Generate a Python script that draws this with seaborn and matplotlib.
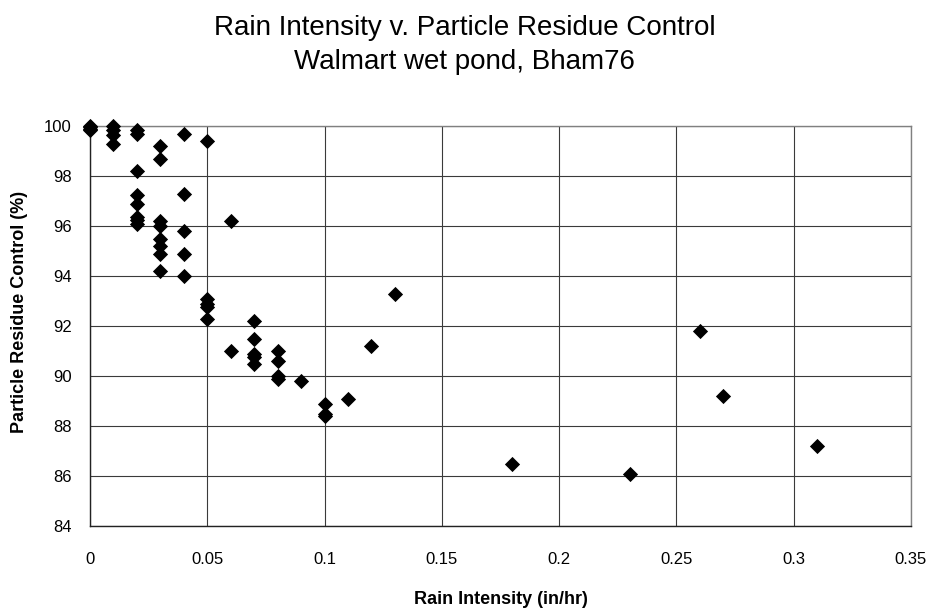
import matplotlib
matplotlib.use("Agg")
import matplotlib.pyplot as plt
import seaborn as sns
import pandas as pd

rain_intensity = [
    0, 0, 0, 0,
    0.01, 0.01, 0.01, 0.01,
    0.02, 0.02, 0.02, 0.02, 0.02, 0.02, 0.02, 0.02,
    0.03, 0.03, 0.03, 0.03, 0.03, 0.03, 0.03, 0.03,
    0.04, 0.04, 0.04, 0.04, 0.04,
    0.05, 0.05, 0.05, 0.05, 0.05,
    0.06, 0.06,
    0.07, 0.07, 0.07, 0.07, 0.07,
    0.08, 0.08, 0.08, 0.08,
    0.09,
    0.10, 0.10, 0.10,
    0.11, 0.12, 0.13, 0.18, 0.23, 0.26, 0.27, 0.31,
]
residue_control = [
    100, 99.95, 99.9, 99.85,
    100, 99.85, 99.65, 99.3,
    99.85, 99.7, 98.2, 97.25, 96.9, 96.35, 96.25, 96.1,
    99.2, 98.7, 96.2, 96.0, 95.5, 95.2, 94.9, 94.2,
    99.7, 97.3, 95.8, 94.9, 94.0,
    99.4, 93.1, 92.9, 92.75, 92.3,
    96.2, 91.0,
    92.2, 91.5, 90.9, 90.75, 90.5,
    91.0, 90.6, 90.0, 89.9,
    89.8,
    88.9, 88.5, 88.4,
    89.1, 91.2, 93.3, 86.5, 86.1, 91.8, 89.2, 87.2,
]
x_ticks = [0, 0.05, 0.1, 0.15, 0.2, 0.25, 0.3, 0.35]
x_tick_labels = ["0", "0.05", "0.1", "0.15", "0.2", "0.25", "0.3", "0.35"]
y_ticks = [84, 86, 88, 90, 92, 94, 96, 98, 100]

title_line1 = "Rain Intensity v. Particle Residue Control"
title_line2 = "Walmart wet pond, Bham76"
x_label = "Rain Intensity (in/hr)"
y_label = "Particle Residue Control (%)"

sns.set_style("white")
plt.rcParams["font.family"] = ["Liberation Sans", "DejaVu Sans"]
plt.rcParams["text.color"] = "black"
plt.rcParams["axes.labelcolor"] = "black"
plt.rcParams["xtick.color"] = "black"
plt.rcParams["ytick.color"] = "black"

df = pd.DataFrame({"x": rain_intensity, "y": residue_control})

W, H = 929, 611
fig = plt.figure(figsize=(W / 100, H / 100), dpi=100)
L, R, T, B = 90, 911, 126, 526
ax = fig.add_axes([L / W, (H - B) / H, (R - L) / W, (B - T) / H])

sns.scatterplot(data=df, x="x", y="y", marker="D", color="black", s=60,
                linewidth=0, ax=ax, zorder=3, clip_on=False)

ax.set_xlim(0, 0.35)
ax.set_ylim(84, 100)
ax.set_xticks(x_ticks)
ax.set_xticklabels(x_tick_labels)
ax.set_yticks(y_ticks)
ax.grid(True, color="#3a3a3a", linewidth=0.8)
ax.set_axisbelow(True)
for side in ["right", "top"]:
    ax.spines[side].set_visible(True)
    ax.spines[side].set_color("#808080")
    ax.spines[side].set_linewidth(1.0)
for side in ["left", "bottom"]:
    ax.spines[side].set_visible(True)
    ax.spines[side].set_color("#222222")
    ax.spines[side].set_linewidth(1.0)
ax.tick_params(axis="both", which="both", direction="out", length=6,
               color="#444444", labelsize=12, labelcolor="black")
ax.tick_params(axis="x", pad=13)
ax.tick_params(axis="y", pad=7)

ax.set_xlabel(x_label, fontsize=13, fontweight="bold", color="black")
ax.xaxis.label.set_verticalalignment("baseline")
ax.xaxis.set_label_coords(0.5, -(604 - B) / (B - T))

ax.set_ylabel(y_label, fontsize=13, fontweight="bold", color="black")
ax.yaxis.label.set_verticalalignment("center")
ax.yaxis.set_label_coords(-(L - 20) / (R - L), (B - 312) / (B - T))

fig.text(464.5 / W, (H - 35) / H, title_line1, ha="center", va="baseline",
         fontsize=20, color="black")
fig.text(464.5 / W, (H - 69) / H, title_line2, ha="center", va="baseline",
         fontsize=20, color="black")

fig.savefig("out.png", dpi=100)
